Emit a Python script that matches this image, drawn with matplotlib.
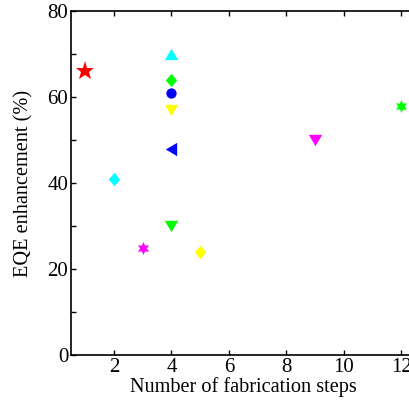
import matplotlib
matplotlib.use("Agg")
import matplotlib.pyplot as plt
from matplotlib.ticker import MultipleLocator

plt.rcParams['font.family'] = ['Liberation Serif', 'DejaVu Serif']

# marker shapes (a bit wider / taller than matplotlib's built-ins, like the original)
tri_up = [(-1, -0.85), (1, -0.85), (0, 0.85), (-1, -0.85)]
tri_down = [(-1, 0.85), (1, 0.85), (0, -0.85), (-1, 0.85)]
tri_left = [(0.85, 1), (0.85, -1), (-0.85, 0), (0.85, 1)]
diamond = [(0, 1), (0.85, 0), (0, -1), (-0.85, 0), (0, 1)]
hexagram = (6, 1, 0)

# fabrication steps, EQE enhancement (%)
steps = [1, 2, 3, 4, 4, 4, 4, 4, 4, 5, 9, 12]
eqe = [66, 41, 25, 70, 64, 61, 57, 48, 30, 24, 50, 58]
markers = ['*', diamond, hexagram, tri_up, diamond, 'o', tri_down, tri_left,
           tri_down, diamond, tri_down, hexagram]
colors = ['#ff0000', '#00ffff', '#ff00ff', '#00ffff', '#00ff00', '#0000ff',
          '#ffff00', '#0000ff', '#00ff00', '#ffff00', '#ff00ff', '#00ff00']
sizes = [14, 9.6, 9.4, 9.6, 9.6, 7.4, 9.6, 9.6, 9.6, 9.6, 9.6, 9.4]

fig = plt.figure(figsize=(4.09, 4.04), dpi=100)
ax = fig.add_axes([71 / 409, 49 / 404, 344.4 / 409, 344 / 404])

for x, y, m, c, s in zip(steps, eqe, markers, colors, sizes):
    ax.plot(x, y, linestyle='none', marker=m, color=c, markersize=s,
            markeredgewidth=0)

ax.set_xlim(0.5, 12.5)
ax.set_ylim(0, 80)
ax.set_xticks([2, 4, 6, 8, 10, 12])
ax.set_yticks([0, 20, 40, 60, 80])
ax.yaxis.set_minor_locator(MultipleLocator(10))
ax.tick_params(which='both', direction='in', top=True, right=True,
               labelsize=15, width=1, length=3.6, color='black', pad=2)
for sp in ax.spines.values():
    sp.set_linewidth(1.2)

ax.set_xlabel('Number of fabrication steps', fontsize=14.6, labelpad=0)
ax.set_ylabel('EQE enhancement (%)', fontsize=14.6, labelpad=10)

fig.savefig('out.png', dpi=100)
